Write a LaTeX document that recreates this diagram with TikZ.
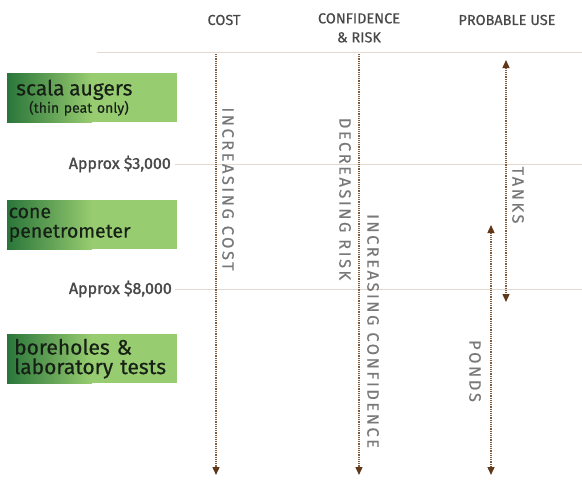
\documentclass[tikz,border=0pt]{standalone}
\usepackage{fontspec}
\setmainfont[FakeBold=0.4]{Fira Sans}
\newfontfamily\spacedfont[LetterSpace=15,FakeBold=0.3]{Fira Sans}
\newfontfamily\approxfont[FakeBold=1.4]{Fira Sans}
\usetikzlibrary{calc,arrows.meta}
\definecolor{dkgreen}{RGB}{42,118,58}
\definecolor{ltgreen}{RGB}{152,204,112}
\definecolor{arrbrown}{RGB}{130,92,62}
\definecolor{tipbrown}{RGB}{95,55,25}
\definecolor{rulecol}{RGB}{226,218,208}
\definecolor{headgray}{RGB}{72,72,72}
\definecolor{rotgray}{RGB}{120,120,120}
\definecolor{boxtext}{RGB}{22,32,22}
\tikzset{
  gbox/.style={rectangle, minimum width=170pt, minimum height=49pt, anchor=north west,
    inner ysep=0pt, text=boxtext, align=left,
    path picture={
      \fill[ltgreen] (path picture bounding box.south west) rectangle (path picture bounding box.north east);
      \shade[left color=dkgreen,right color=ltgreen] (path picture bounding box.south west) rectangle ($(path picture bounding box.north west)!0.5!(path picture bounding box.north east)$);
    }},
  rulerline/.style={draw=rulecol, line width=1pt},
  darr/.style={draw=arrbrown, line width=1.3pt, dash pattern=on 1.1pt off 1.1pt},
  tip/.style={-{Triangle[length=8pt,width=7pt,color=tipbrown]}},
  tiptwo/.style={{Triangle[length=8pt,width=7pt,color=tipbrown]}-{Triangle[length=8pt,width=7pt,color=tipbrown]}},
  head/.style={text=headgray, font=\fontsize{14.5}{19}\selectfont, align=center, inner sep=0pt},
  rot/.style={text=rotgray, font=\spacedfont\fontsize{16.5}{16.5}\selectfont, rotate=-90, inner sep=0pt},
  approx/.style={text=headgray, font=\approxfont\fontsize{16}{16}\selectfont, anchor=east, inner sep=0pt},
}
\begin{document}
\begin{tikzpicture}[x=1pt,y=-1pt]
\useasboundingbox (0,0) rectangle (582,482);
% horizontal rules
\coordinate (r0a) at (97,52);  \coordinate (r0b) at (582,52);
\coordinate (r1a) at (175,164); \coordinate (r1b) at (582,164);
\coordinate (r2a) at (175,289); \coordinate (r2b) at (582,289);
\draw[rulerline] (r0a) -- (r0b);
\draw[rulerline] (r1a) -- (r1b);
\draw[rulerline] (r2a) -- (r2b);
% headers
\node[head] (hcost) at (224,20) {COST};
\node[head, anchor=north] (hconf) at (359,13) {CONFIDENCE\\\& RISK};
\node[head] (huse) at (507,20) {PROBABLE USE};
% approx labels
\node[approx] (a1) at (171,164) {Approx \$3,000};
\node[approx] (a2) at (172,289) {Approx \$8,000};
% boxes
\node[gbox, inner xsep=9pt, text width=152pt, font=\fontsize{14}{14.5}\selectfont] (b1) at (7,73)
  {{\fontsize{21}{21}\selectfont scala augers}\\\hspace*{13pt}(thin peat only)};
\node[gbox, inner xsep=1.5pt, text width=167pt, font=\fontsize{19.5}{19.5}\selectfont] (b2) at (7,200)
  {cone\\penetrometer};
\node[gbox, inner xsep=7pt, text width=156pt, font=\fontsize{21}{19.5}\selectfont] (b3) at (7,334)
  {boreholes \&\\laboratory tests};
% arrows
\coordinate (c1t) at (216,54);  \coordinate (c1b) at (216,475);
\coordinate (c2t) at (359,54);  \coordinate (c2b) at (359,475);
\coordinate (c3t) at (506,60);  \coordinate (c3b) at (506,302);
\coordinate (c4t) at (491,225); \coordinate (c4b) at (491,475);
\draw[darr, tip] (c1t) -- (c1b);
\draw[darr, tip] (c2t) -- (c2b);
\draw[darr, tiptwo] (c3t) -- (c3b);
\draw[darr, tiptwo] (c4t) -- (c4b);
% rotated labels
\node[rot] (t1) at (228,189) {INCREASING COST};
\node[rot] (t2) at (345,199) {DECREASING RISK};
\node[rot] (t3) at (373,331) {INCREASING CONFIDENCE};
\node[rot] (t4) at (518,195) {TANKS};
\node[rot] (t5) at (475,371) {PONDS};
\end{tikzpicture}
\end{document}
